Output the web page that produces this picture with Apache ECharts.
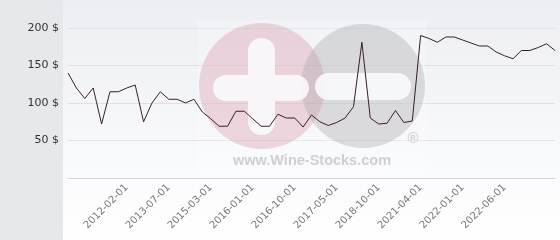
<!DOCTYPE html>
<html><head><meta charset="utf-8">
<script src="https://cdn.jsdelivr.net/npm/echarts@6/dist/echarts.min.js"></script>
<style>html,body{margin:0;padding:0;background:#fff}#c{width:560px;height:240px}</style>
</head><body><div id="c"></div>
<script>
// Category labels (only the ones printed on the axis are known)
const categories = [
  '', '', '', '', '', '', '', '2012-02-01', '', '',
  '', '', '2013-07-01', '', '', '', '', '2015-03-01', '', '',
  '', '', '2016-01-01', '', '', '', '', '2016-10-01', '', '',
  '', '', '2017-05-01', '', '', '', '', '2018-10-01', '', '',
  '', '', '2021-04-01', '', '', '', '', '2022-01-01', '', '',
  '', '', '2022-06-01', '', '', '', '', '', ''
];
// Price values in $
const prices = [
  140, 120, 106, 120, 72, 115, 115, 120, 124, 75,
  100, 115, 105, 105, 100, 105, 88, 79, 69, 69,
  89, 89, 79, 69, 69, 85, 80, 80, 68, 84,
  75, 70, 74, 80, 95, 181, 80, 72, 73, 90,
  74, 76, 190, 186, 181, 188, 188, 184, 180, 176,
  176, 168, 163, 159, 170, 170, 174, 179, 170
];
const yMin = 0, yMax = 200, yStep = 50;
const currency = ' $';

const chart = echarts.init(document.getElementById('c'), null, {renderer: 'canvas'});
chart.setOption({
  animation: false,
  grid: {left: 68, right: 5, top: 28, height: 150, containLabel: false, outerBoundsMode: 'none'},
  xAxis: {
    type: 'category',
    data: categories,
    boundaryGap: false,
    axisLine: {show: true, lineStyle: {color: '#d4d6dc', width: 1}},
    axisTick: {show: false},
    splitLine: {show: false},
    axisLabel: {
      interval: 0, rotate: 45, margin: 8,
      color: '#777777', fontSize: 10, fontFamily: 'DejaVu Sans'
    }
  },
  yAxis: {
    type: 'value',
    min: yMin, max: yMax, interval: yStep,
    axisLine: {show: false},
    axisTick: {show: false},
    splitLine: {show: true, lineStyle: {color: '#e0e0e3', width: 1}},
    axisLabel: {
      margin: 9, color: '#333333', fontSize: 11, fontFamily: 'DejaVu Sans',
      formatter: v => v === 0 ? '' : v + currency
    }
  },
  graphic: [
    {type: 'rect', z: -10, silent: true, shape: {x: 0, y: 0, width: 560, height: 240},
      style: {fill: new echarts.graphic.LinearGradient(0, 0, 0, 1, [
        {offset: 0, color: '#eceef3'}, {offset: 1, color: '#ffffff'}])}},
    {type: 'rect', z: -9, silent: true, shape: {x: 0, y: 0, width: 63, height: 240},
      style: {fill: '#e5e9ec'}},
    // watermark
    {type: 'rect', z: 1, silent: true, shape: {x: 197, y: 20, width: 230, height: 155},
      style: {fill: 'rgba(255,255,255,0.22)'}},
    {type: 'circle', z: 1, silent: true, shape: {cx: 262, cy: 86, r: 63},
      style: {fill: 'rgba(214,140,160,0.33)'}},
    {type: 'circle', z: 1, silent: true, shape: {cx: 363, cy: 86, r: 62},
      style: {fill: 'rgba(165,165,168,0.36)'}},
    {type: 'rect', z: 1, silent: true, shape: {x: 213, y: 75, width: 96, height: 26, r: 13},
      style: {fill: 'rgba(250,250,252,0.9)'}},
    {type: 'rect', z: 1, silent: true, shape: {x: 248, y: 38, width: 27, height: 37, r: [13, 13, 0, 0]},
      style: {fill: 'rgba(250,250,252,0.9)'}},
    {type: 'rect', z: 1, silent: true, shape: {x: 248, y: 101, width: 27, height: 34, r: [0, 0, 13, 13]},
      style: {fill: 'rgba(250,250,252,0.9)'}},
    {type: 'rect', z: 1, silent: true, shape: {x: 315, y: 73, width: 96, height: 27, r: 13.5},
      style: {fill: 'rgba(250,250,252,0.9)'}},
    {type: 'text', z: 1, silent: true, x: 413, y: 139,
      style: {text: '®', fill: '#d2d2d5', font: 'bold 15px "Liberation Sans"', align: 'center', verticalAlign: 'middle'}},
    {type: 'text', z: 1, silent: true, x: 312, y: 161,
      style: {text: 'www.Wine-Stocks.com', fill: '#cfcfd2', font: 'bold 14.5px "Liberation Sans"', align: 'center', verticalAlign: 'middle'}}
  ],
  series: [{
    type: 'line',
    data: prices,
    z: 3,
    symbol: 'none',
    lineStyle: {color: '#3a1d2a', width: 1},
    emphasis: {disabled: true}
  }]
});
</script>
</body></html>
